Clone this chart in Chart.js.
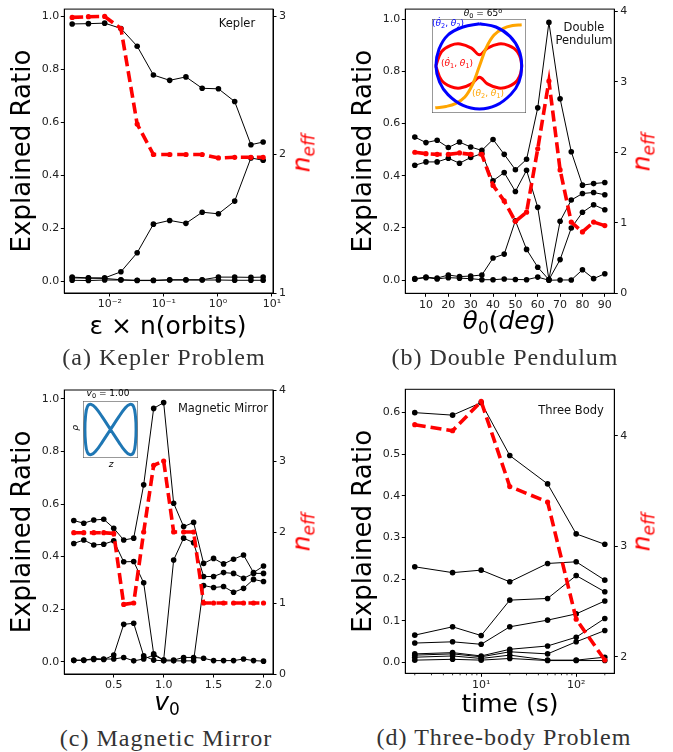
<!DOCTYPE html>
<html><head><meta charset="utf-8">
<script src="https://cdn.jsdelivr.net/npm/chart.js@4.4.1/dist/chart.umd.min.js"></script>
<style>
body{margin:0;background:#fff;width:673px;height:752px;position:relative;overflow:hidden;font-family:"DejaVu Sans",sans-serif;}
.box{position:absolute;}
canvas{display:block;}
.cap{position:absolute;font-family:"Liberation Serif",serif;font-size:24px;letter-spacing:1px;color:#333;transform:translate(-50%,-50%);white-space:nowrap;line-height:1;}
.xt{position:absolute;font-size:25px;color:#000;transform:translate(-50%,-50%);white-space:nowrap;line-height:1;}
.xt sub{font-size:17px;vertical-align:-5px;}
.neff{position:absolute;color:#f00;font-style:italic;font-size:25px;transform:translate(-50%,-50%) rotate(-90deg);white-space:nowrap;line-height:1;}
.neff sub{font-size:17px;vertical-align:-5px;}
.lab{position:absolute;font-size:11.5px;color:#111;transform:translate(-50%,-50%);white-space:nowrap;text-align:center;line-height:13px;}
.il{position:absolute;font-size:9px;transform:translate(-50%,-50%);white-space:nowrap;line-height:1;}
.il sub{font-size:6.5px;vertical-align:-2px;}
.il sup{font-size:6.5px;vertical-align:3px;}
</style></head>
<body>
<div class="box" style="left:0;top:0;"><canvas id="cA" width="336" height="312"></canvas></div>
<div class="box" style="left:336px;top:0;"><canvas id="cB" width="337" height="312"></canvas></div>
<div class="box" style="left:0;top:380px;"><canvas id="cC" width="336" height="312"></canvas></div>
<div class="box" style="left:336px;top:380px;"><canvas id="cD" width="337" height="312"></canvas></div>

<div class="box" style="left:432px;top:19px;"><canvas id="iB" width="94" height="94"></canvas></div>
<div class="box" style="left:83px;top:401px;"><canvas id="iC" width="55" height="57"></canvas></div>

<div class="lab" style="left:237px;top:23px;">Kepler</div>
<div class="lab" style="left:584px;top:34px;">Double<br>Pendulum</div>
<div class="lab" style="left:223px;top:408px;">Magnetic Mirror</div>
<div class="lab" style="left:571px;top:410px;">Three Body</div>

<div class="xt" style="left:168px;top:325px;">ε × n(orbits)</div>
<div class="xt" style="left:509px;top:322px;"><i>θ</i><sub>0</sub>(<i>deg</i>)</div>
<div class="xt" style="left:167px;top:703px;"><i>v</i><sub>0</sub></div>
<div class="xt" style="left:510px;top:703px;">time (s)</div>

<div class="neff" style="left:303px;top:153px;">n<sub>eff</sub></div>
<div class="neff" style="left:643px;top:152px;">n<sub>eff</sub></div>
<div class="neff" style="left:303px;top:532px;">n<sub>eff</sub></div>
<div class="neff" style="left:643px;top:532px;">n<sub>eff</sub></div>

<div class="cap" style="left:164px;top:357px;">(a) Kepler Problem</div>
<div class="cap" style="left:505px;top:357px;">(b) Double Pendulum</div>
<div class="cap" style="left:166px;top:738px;">(c) Magnetic Mirror</div>
<div class="cap" style="left:504px;top:737px;">(d) Three-body Problem</div>

<div class="il" style="left:483px;top:14px;color:#000;"><i>θ</i><sub>0</sub> = 65<sup>o</sup></div>
<div class="il" style="left:448px;top:24px;color:#0000ff;">(<i>θ̇</i><sub>2</sub>, <i>θ</i><sub>2</sub>)</div>
<div class="il" style="left:457px;top:64px;color:#ff0000;">(<i>θ̇</i><sub>1</sub>, <i>θ</i><sub>1</sub>)</div>
<div class="il" style="left:488px;top:94px;color:#ffa500;">(<i>θ</i><sub>2</sub>, <i>θ</i><sub>1</sub>)</div>
<div class="il" style="left:108px;top:394px;color:#000;"><i>v</i><sub>0</sub> = 1.00</div>
<div class="il" style="left:75px;top:428px;color:#000;transform:translate(-50%,-50%) rotate(-90deg);"><i>ρ</i></div>
<div class="il" style="left:111px;top:464px;color:#000;"><i>z</i></div>

<script>
// ---------- (a) Kepler ----------
const keplerX = [0.002, 0.004, 0.008, 0.016, 0.032, 0.064, 0.128, 0.256, 0.512, 1.024, 2.048, 4.096, 6.9];
const keplerRatio1 = [0.971, 0.972, 0.974, 0.954, 0.887, 0.778, 0.758, 0.771, 0.728, 0.726, 0.678, 0.515, 0.525];
const keplerRatio2 = [0.015, 0.012, 0.012, 0.035, 0.107, 0.215, 0.229, 0.218, 0.260, 0.254, 0.302, 0.465, 0.456];
const keplerRatio3 = [0.012, 0.011, 0.010, 0.005, 0.003, 0.003, 0.005, 0.005, 0.005, 0.015, 0.015, 0.014, 0.015];
const keplerRatio4 = [0.003, 0.002, 0.004, 0.004, 0.002, 0.002, 0.004, 0.004, 0.004, 0.004, 0.003, 0.003, 0.003];
const keplerNeff = [2.99, 2.995, 2.997, 2.91, 2.22, 2.0, 2.0, 2.0, 2.0, 1.975, 1.98, 1.98, 1.98];
const keplerXTicks = [0.01, 0.1, 1, 10];
const keplerYTicks = [0, 0.2, 0.4, 0.6, 0.8, 1.0];
const keplerNeffTicks = [1, 2, 3];

// ---------- (b) Double pendulum ----------
const pendX = [5, 10, 15, 20, 25, 30, 35, 40, 45, 50, 55, 60, 65, 70, 75, 80, 85, 90];
const pendRatio1 = [0.548, 0.527, 0.536, 0.508, 0.529, 0.510, 0.497, 0.539, 0.482, 0.423, 0.463, 0.660, 0.987, 0.695, 0.492, 0.364, 0.370, 0.374];
const pendRatio2 = [0.440, 0.453, 0.453, 0.467, 0.448, 0.470, 0.485, 0.381, 0.412, 0.340, 0.421, 0.279, 0.003, 0.226, 0.307, 0.332, 0.336, 0.327];
const pendRatio3 = [0.006, 0.012, 0.008, 0.020, 0.014, 0.016, 0.020, 0.085, 0.100, 0.228, 0.118, 0.050, 0.002, 0.079, 0.200, 0.260, 0.289, 0.270];
const pendRatio4 = [0.004, 0.010, 0.005, 0.010, 0.008, 0.006, 0.002, 0.002, 0.005, 0.003, 0.002, 0.012, 0.000, 0.001, 0.001, 0.040, 0.006, 0.025];
const pendNeff = [2.0, 1.98, 1.97, 1.97, 1.99, 1.97, 1.97, 1.53, 1.31, 1.02, 1.15, 2.05, 3.01, 1.75, 1.01, 0.87, 1.01, 0.96];
const pendXTicks = [10, 20, 30, 40, 50, 60, 70, 80, 90];
const pendYTicks = [0, 0.2, 0.4, 0.6, 0.8, 1.0];
const pendNeffTicks = [0, 1, 2, 3, 4];

// ---------- (c) Magnetic mirror ----------
const magX = [0.1, 0.2, 0.3, 0.4, 0.5, 0.6, 0.7, 0.8, 0.9, 1.0, 1.1, 1.2, 1.3, 1.4, 1.5, 1.6, 1.7, 1.8, 1.9, 2.0];
const magRatio1 = [0.537, 0.527, 0.539, 0.542, 0.508, 0.463, 0.470, 0.673, 0.964, 0.986, 0.603, 0.514, 0.530, 0.374, 0.393, 0.372, 0.390, 0.406, 0.339, 0.364];
const magRatio2 = [0.450, 0.463, 0.444, 0.447, 0.460, 0.380, 0.381, 0.300, 0.030, 0.006, 0.387, 0.470, 0.453, 0.324, 0.324, 0.339, 0.336, 0.317, 0.336, 0.336];
const magRatio3 = [0.005, 0.006, 0.008, 0.008, 0.025, 0.142, 0.146, 0.022, 0.006, 0.003, 0.003, 0.003, 0.003, 0.290, 0.282, 0.286, 0.264, 0.279, 0.313, 0.305];
const magRatio4 = [0.005, 0.005, 0.012, 0.010, 0.010, 0.016, 0.003, 0.010, 0.025, 0.006, 0.006, 0.016, 0.016, 0.013, 0.004, 0.004, 0.004, 0.010, 0.004, 0.002];
const magNeff = [1.99, 1.99, 1.99, 1.99, 1.98, 0.98, 1.00, 2.00, 2.94, 3.00, 2.00, 2.00, 2.00, 1.00, 1.00, 1.00, 1.00, 1.00, 1.00, 1.00];
const magXTicks = [0.5, 1.0, 1.5, 2.0];
const magYTicks = [0, 0.2, 0.4, 0.6, 0.8, 1.0];
const magNeffTicks = [0, 1, 2, 3, 4];

// ---------- (d) Three body ----------
const tbX = [2, 5, 10, 20, 50, 100, 200];
const tbRatio1 = [0.600, 0.594, 0.624, 0.497, 0.429, 0.309, 0.284];
const tbRatio2 = [0.230, 0.216, 0.222, 0.194, 0.238, 0.242, 0.198];
const tbRatio3 = [0.066, 0.086, 0.065, 0.150, 0.154, 0.209, 0.170];
const tbRatio4 = [0.047, 0.050, 0.044, 0.086, 0.102, 0.117, 0.148];
const tbRatio5 = [0.021, 0.024, 0.016, 0.032, 0.040, 0.061, 0.106];
const tbRatio6 = [0.018, 0.021, 0.014, 0.026, 0.021, 0.050, 0.077];
const tbRatio7 = [0.013, 0.016, 0.010, 0.018, 0.006, 0.006, 0.013];
const tbRatio8 = [0.006, 0.008, 0.006, 0.010, 0.005, 0.005, 0.005];
const tbNeff = [4.10, 4.045, 4.31, 3.54, 3.40, 2.34, 1.97];
const tbXTicks = [10, 100];
const tbXMinorTicks = [2, 3, 4, 5, 6, 7, 8, 9, 20, 30, 40, 50, 60, 70, 80, 90, 200];
const tbYTicks = [0, 0.1, 0.2, 0.3, 0.4, 0.5, 0.6];
const tbNeffTicks = [2, 3, 4];

// ---------- insets (box-relative 0..1) ----------
const pendInsetBlueU = [0.505, 0.680, 0.830, 0.925, 0.954, 0.925, 0.840, 0.680, 0.505, 0.330, 0.170, 0.080, 0.042, 0.075, 0.170, 0.330, 0.505];
const pendInsetBlueV = [0.950, 0.915, 0.815, 0.670, 0.500, 0.330, 0.200, 0.080, 0.043, 0.080, 0.195, 0.330, 0.500, 0.680, 0.830, 0.915, 0.950];
const pendInsetRedU = [0.040, 0.100, 0.200, 0.300, 0.420, 0.505, 0.590, 0.710, 0.810, 0.910, 0.954, 0.910, 0.810, 0.710, 0.590, 0.505, 0.420, 0.300, 0.200, 0.100, 0.040];
const pendInsetRedV = [0.500, 0.650, 0.720, 0.735, 0.690, 0.620, 0.690, 0.735, 0.720, 0.650, 0.500, 0.350, 0.280, 0.265, 0.310, 0.380, 0.310, 0.265, 0.280, 0.350, 0.500];
const pendInsetOrangeU = [0.035, 0.150, 0.250, 0.350, 0.430, 0.505, 0.580, 0.660, 0.760, 0.860, 0.954];
const pendInsetOrangeV = [0.055, 0.070, 0.100, 0.170, 0.300, 0.500, 0.700, 0.830, 0.900, 0.930, 0.940];
const magInsetU = [0.50, 0.65, 0.76, 0.85, 0.92, 0.955, 0.965, 0.955, 0.92, 0.85, 0.76, 0.65, 0.50, 0.35, 0.24, 0.15, 0.08, 0.045, 0.035, 0.045, 0.08, 0.15, 0.24, 0.35, 0.50];
const magInsetV = [0.50, 0.72, 0.87, 0.94, 0.90, 0.72, 0.50, 0.28, 0.10, 0.06, 0.13, 0.28, 0.50, 0.72, 0.87, 0.94, 0.90, 0.72, 0.50, 0.28, 0.10, 0.06, 0.13, 0.28, 0.50];

Chart.defaults.font.family = "'DejaVu Sans', sans-serif";
Chart.defaults.color = '#222';

const framePlugin = {
  id: 'frame',
  afterDraw(chart, args, opts) {
    const a = chart.chartArea, ctx = chart.ctx;
    ctx.save();
    ctx.strokeStyle = opts.color || '#000';
    ctx.lineWidth = opts.width || 1;
    ctx.strokeRect(a.left, a.top, a.right - a.left, a.bottom - a.top);
    ctx.restore();
  }
};
const minorTickPlugin = {
  id: 'minorTicks',
  afterDraw(chart, args, opts) {
    const vals = opts.values || [];
    if (!vals.length) return;
    const s = chart.scales.x, ctx = chart.ctx, b = chart.chartArea.bottom;
    ctx.save();
    ctx.strokeStyle = '#000';
    ctx.lineWidth = 0.8;
    vals.forEach(v => {
      const px = s.getPixelForValue(v);
      ctx.beginPath(); ctx.moveTo(px, b); ctx.lineTo(px, b + 2); ctx.stroke();
    });
    ctx.restore();
  }
};
Chart.register(framePlugin, minorTickPlugin);

function pts(xs, ys) { return xs.map((x, i) => ({x: x, y: ys[i]})); }
function blackLine(xs, ys) {
  return {data: pts(xs, ys), yAxisID: 'y', borderColor: '#000', backgroundColor: '#000', borderWidth: 1,
    pointRadius: 2.8, pointHoverRadius: 2.8, pointBorderWidth: 0, pointBackgroundColor: '#000', tension: 0, fill: false};
}
function redLine(xs, ys) {
  return {data: pts(xs, ys), yAxisID: 'y2', borderColor: '#ff0000', backgroundColor: '#ff0000', borderWidth: 3.6,
    borderDash: [11, 5], pointRadius: 2.6, pointHoverRadius: 2.6, pointBorderWidth: 0, pointBackgroundColor: '#ff0000', tension: 0, fill: false};
}
const supMap = {'-': '⁻', '0': '⁰', '1': '¹', '2': '²', '3': '³'};
function logLabel(v) {
  const e = String(Math.round(Math.log10(v)));
  return '10' + e.split('').map(c => supMap[c]).join('');
}

function panel(id, p) {
  const el = document.getElementById(id);
  const W = el.width, H = el.height;
  const tickFont = {size: 11};
  const grid = {drawOnChartArea: false, drawTicks: true, tickLength: 3.5, tickColor: '#000', tickWidth: 1};
  const border = {display: true, color: '#000', width: 1};
  return new Chart(el, {
    type: 'line',
    data: {datasets: [redLine(p.x, p.neff)].concat(p.ratios.map(r => blackLine(p.x, r)))},
    options: {
      responsive: false, animation: false, events: [],
      layout: {padding: {top: p.area.t, left: 0, right: 0, bottom: 0}},
      plugins: {legend: {display: false}, tooltip: {enabled: false}, frame: {}, minorTicks: {values: p.minor || []}},
      scales: {
        x: {type: p.xType, min: p.xMin, max: p.xMax, position: 'bottom',
          afterBuildTicks: s => { s.ticks = p.xTicks.map(v => ({value: v})); },
          afterFit: s => { s.height = H - p.area.b; },
          ticks: {callback: p.xFmt, font: tickFont, color: '#222', padding: 1.5, maxRotation: 0, autoSkip: false},
          grid: grid, border: border},
        y: {type: 'linear', position: 'left', min: p.yMin, max: p.yMax,
          afterBuildTicks: s => { s.ticks = p.yTicks.map(v => ({value: v})); },
          afterFit: s => { s.width = p.area.l; },
          ticks: {callback: v => v.toFixed(1), font: tickFont, color: '#222', padding: 1.5},
          title: {display: true, text: 'Explained Ratio', font: {size: 26}, color: '#000', padding: {top: p.titlePad, bottom: 0}},
          grid: grid, border: border},
        y2: {type: 'linear', position: 'right', min: p.nMin, max: p.nMax,
          afterBuildTicks: s => { s.ticks = p.nTicks.map(v => ({value: v})); },
          afterFit: s => { s.width = W - p.area.r; },
          ticks: {callback: v => String(v), font: tickFont, color: '#222', padding: 2.5},
          grid: grid, border: border}
      }
    }
  });
}

panel('cA', {x: keplerX, neff: keplerNeff, ratios: [keplerRatio1, keplerRatio2, keplerRatio3, keplerRatio4],
  area: {l: 64.3, t: 8.3, r: 273, b: 293}, titlePad: 7.4,
  xType: 'logarithmic', xMin: 0.00143, xMax: 10.5, xTicks: keplerXTicks, xFmt: logLabel,
  yMin: -0.045, yMax: 1.027, yTicks: keplerYTicks, nMin: 1, nMax: 3.05, nTicks: keplerNeffTicks});

panel('cB', {x: pendX, neff: pendNeff, ratios: [pendRatio1, pendRatio2, pendRatio3, pendRatio4],
  area: {l: 69.3, t: 7.3, r: 278.3, b: 293.3}, titlePad: 13,
  xType: 'linear', xMin: 0.75, xMax: 94.25, xTicks: pendXTicks, xFmt: v => String(v),
  yMin: -0.05, yMax: 1.038, yTicks: pendYTicks, nMin: 0, nMax: 4.03, nTicks: pendNeffTicks});

panel('cC', {x: magX, neff: magNeff, ratios: [magRatio1, magRatio2, magRatio3, magRatio4],
  area: {l: 64.3, t: 10, r: 273, b: 294}, titlePad: 7.4,
  xType: 'linear', xMin: 0.005, xMax: 2.095, xTicks: magXTicks, xFmt: v => v.toFixed(1),
  yMin: -0.047, yMax: 1.034, yTicks: magYTicks, nMin: 0, nMax: 4.0, nTicks: magNeffTicks});

panel('cD', {x: tbX, neff: tbNeff, ratios: [tbRatio1, tbRatio2, tbRatio3, tbRatio4, tbRatio5, tbRatio6, tbRatio7, tbRatio8],
  area: {l: 69.3, t: 9.3, r: 278.3, b: 293.3}, titlePad: 12.5, minor: tbXMinorTicks,
  xType: 'logarithmic', xMin: 1.59, xMax: 251.8, xTicks: tbXTicks, xFmt: logLabel,
  yMin: -0.0256, yMax: 0.656, yTicks: tbYTicks, nMin: 1.85, nMax: 4.42, nTicks: tbNeffTicks});

function curve(us, vs, color, w) {
  return {data: pts(us, vs), showLine: true, borderColor: color, borderWidth: w, pointRadius: 0, tension: 0.4, fill: false};
}
function inset(id, datasets) {
  return new Chart(document.getElementById(id), {
    type: 'scatter',
    data: {datasets: datasets},
    options: {
      responsive: false, animation: false, events: [],
      layout: {padding: 0},
      plugins: {legend: {display: false}, tooltip: {enabled: false}, frame: {color: '#555', width: 1.2}},
      scales: {x: {display: false, min: 0, max: 1}, y: {display: false, min: 0, max: 1}}
    }
  });
}
inset('iB', [
  curve(pendInsetBlueU, pendInsetBlueV, '#0000ff', 3),
  curve(pendInsetOrangeU, pendInsetOrangeV, '#ffa500', 3),
  curve(pendInsetRedU, pendInsetRedV, '#ff0000', 3)
]);
inset('iC', [curve(magInsetU, magInsetV, '#1f77b4', 3)]);
</script>
</body></html>
